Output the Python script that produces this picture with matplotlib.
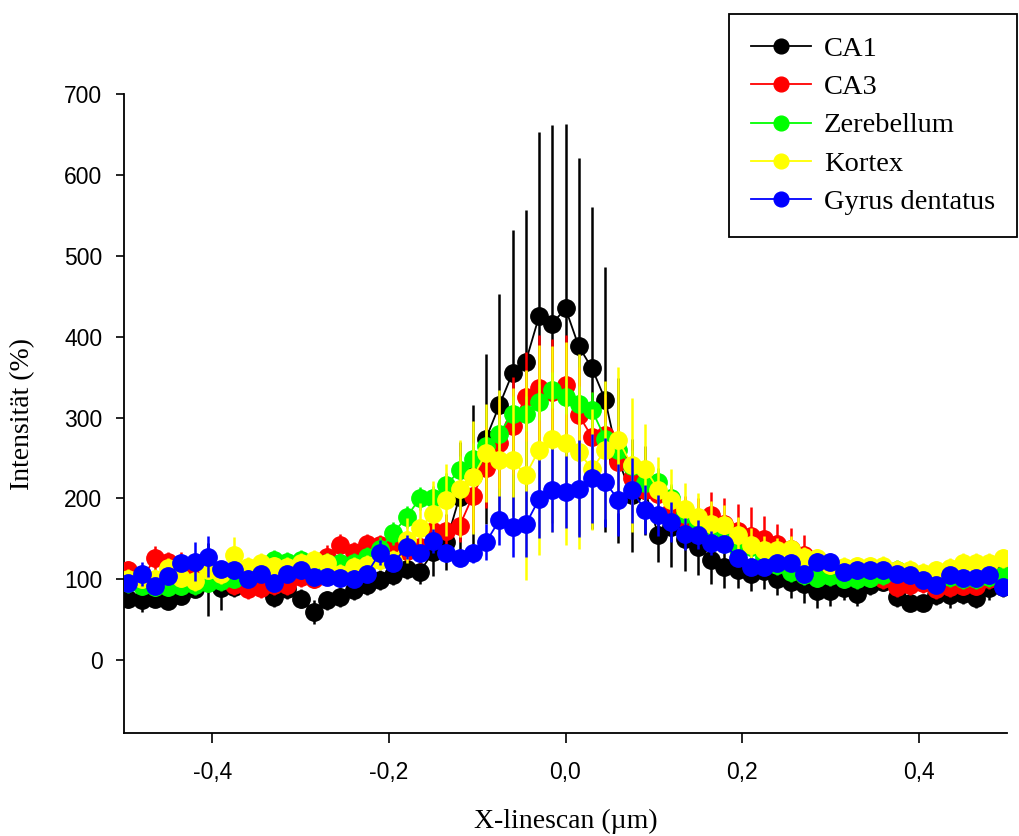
import numpy as np
import matplotlib
matplotlib.use("Agg")
import matplotlib.pyplot as plt
from matplotlib.ticker import FuncFormatter

# linescan positions (um), 67 samples
x = np.linspace(-0.495, 0.495, 67)

ca1 = [76, 74, 76, 73, 79, 88, 100, 89, 90, 95, 92, 78, 88, 76, 60, 74, 78, 87, 93, 99,
       105, 113, 109, 134, 146, 202, 228, 274, 315, 355, 369, 425, 416, 435, 388, 361, 322,
       247, 204, 210, 155, 165, 150, 140, 124, 115, 111, 107, 110, 100, 97, 94, 85, 85, 89,
       82, 93, 97, 78, 71, 71, 80, 80, 82, 77, 89, 90]
ca1_err = [12, 14, 10, 10, 10, 10, 45, 27, 12, 12, 12, 12, 12, 12, 15, 12, 12, 12, 12, 12,
           12, 12, 15, 30, 35, 68, 88, 105, 138, 177, 188, 228, 246, 228, 233, 199, 164,
           102, 70, 55, 34, 50, 40, 35, 30, 26, 22, 22, 22, 20, 20, 23, 20, 18, 15,
           15, 12, 12, 12, 10, 10, 12, 15, 12, 12, 14, 12]

ca3 = [111, 100, 126, 122, 118, 111, 108, 104, 93, 88, 89, 93, 93, 103, 101, 127, 142, 134,
       144, 143, 140, 135, 140, 160, 160, 166, 203, 238, 268, 290, 326, 336, 332, 340, 303,
       276, 279, 245, 225, 210, 205, 185, 175, 173, 179, 168, 160, 153, 150, 144, 138, 130,
       112, 110, 107, 105, 103, 100, 90, 93, 95, 88, 90, 92, 92, 100, 106]
ca3_err = [12, 12, 15, 12, 16, 12, 12, 12, 12, 12, 12, 12, 12, 12, 12, 15, 14, 12,
           12, 12, 12, 12, 20, 20, 20, 20, 45, 50, 55, 60, 55, 66, 65, 62, 60,
           55, 50, 45, 35, 30, 28, 28, 28, 28, 29, 33, 33, 37, 28, 25, 25, 25,
           20, 12, 12, 12, 12, 12, 12, 12, 12, 12, 12, 12, 12, 12, 12]

zer = [95, 92, 91, 91, 92, 93, 96, 98, 101, 108, 112, 124, 122, 124, 120, 120, 120, 120,
       128, 138, 157, 177, 200, 200, 216, 235, 249, 265, 280, 305, 305, 319, 334, 326, 317,
       309, 274, 260, 240, 219, 220, 200, 181, 170, 165, 148, 138, 140, 128, 118, 109, 105,
       102, 104, 101, 100, 102, 105, 112, 109, 105, 103, 103, 100, 100, 103, 105]
zer_err = [12, 12, 12, 12, 12, 12, 12, 12, 12, 12, 12, 12, 12, 12, 12, 12, 12, 12,
           12, 14, 14, 14, 14, 15, 16, 18, 20, 20, 20, 22, 22, 22, 22, 22, 22,
           22, 20, 20, 20, 18, 18, 18, 16, 16, 15, 15, 15, 14, 14, 13, 12, 12,
           12, 12, 12, 12, 12, 12, 12, 12, 12, 12, 12, 12, 12, 12, 12]

kor = [101, 101, 101, 114, 102, 98, 112, 106, 130, 115, 120, 116, 115, 120, 124, 120, 107,
       115, 118, 124, 124, 148, 163, 181, 198, 212, 226, 256, 247, 247, 229, 260, 274, 268,
       258, 236, 260, 272, 241, 237, 211, 198, 187, 177, 169, 167, 155, 143, 136, 136, 138,
       128, 126, 118, 115, 116, 116, 117, 112, 112, 108, 111, 114, 120, 120, 120, 126]
kor_err = [12, 12, 12, 12, 12, 12, 12, 12, 22, 12, 12, 12, 12, 12, 12, 12, 12,
           12, 12, 12, 12, 28, 31, 40, 45, 60, 70, 61, 87, 89, 130, 130, 115, 125,
           120, 75, 85, 90, 83, 55, 40, 38, 32, 30, 28, 25, 22, 20, 18, 15, 15,
           12, 12, 12, 12, 12, 12, 12, 12, 12, 12, 12, 12, 12, 12, 12, 12]

gyr = [95, 107, 92, 104, 120, 122, 128, 113, 111, 101, 107, 96, 107, 111, 103, 103, 102,
       101, 107, 133, 120, 140, 132, 147, 132, 126, 132, 146, 173, 165, 168, 199, 210, 208,
       212, 225, 220, 198, 210, 186, 179, 171, 156, 155, 145, 144, 126, 115, 115, 120, 120,
       107, 122, 122, 109, 111, 111, 111, 107, 105, 99, 93, 105, 102, 102, 105, 91]
gyr_err = [10, 15, 10, 10, 10, 24, 25, 10, 10, 10, 10, 10, 10, 10, 10, 10, 10,
           10, 10, 15, 10, 15, 10, 15, 10, 10, 12, 22, 30, 37, 41, 48, 51, 45,
           60, 55, 55, 45, 40, 30, 25, 25, 20, 18, 15, 10, 10, 10, 10, 10, 10,
           10, 10, 10, 10, 10, 10, 10, 10, 10, 10, 10, 10, 10, 10, 10, 10]

series = [
    ("CA1", ca1, ca1_err, "#000000"),
    ("CA3", ca3, ca3_err, "#ff0000"),
    ("Zerebellum", zer, zer_err, "#00ff00"),
    ("Kortex", kor, kor_err, "#ffff00"),
    ("Gyrus dentatus", gyr, gyr_err, "#0000ff"),
]

fig = plt.figure(figsize=(10.19, 8.36), dpi=100)
ax = fig.add_axes([124 / 1019, 1 - 733 / 836, 883 / 1019, 639 / 836])

handles = []
for n, (name, y, err, col) in enumerate(series):
    ax.errorbar(x, y, yerr=err, fmt="none", ecolor=col, elinewidth=1.8,
                capsize=0, zorder=2 + 2 * n)
    h, = ax.plot(x, y, "-o", color=col, lw=1.3, ms=12.5, mec=col,
                 label=name, zorder=3 + 2 * n)
    handles.append(h)

ax.set_xlim(-0.5, 0.5)
ax.set_ylim(-90, 700)
ax.set_xticks([-0.4, -0.2, 0.0, 0.2, 0.4])
ax.set_yticks(range(0, 701, 100))
ax.xaxis.set_major_formatter(FuncFormatter(lambda v, p: f"{v:.1f}".replace(".", ",")))

for s in ("top", "right"):
    ax.spines[s].set_visible(False)
for s in ("left", "bottom"):
    ax.spines[s].set_linewidth(1.3)

ax.tick_params(axis="x", direction="out", length=7, width=1.2, pad=13)
ax.tick_params(axis="y", direction="out", length=6, width=1.2, pad=9.5)
for lab in ax.get_xticklabels() + ax.get_yticklabels():
    lab.set_fontfamily("Liberation Sans")
    lab.set_fontsize(16.5)

ax.set_xlabel("X-linescan (µm)", family="Liberation Serif", fontsize=20)
ax.xaxis.set_label_coords(0.5, -0.118)
ax.set_ylabel("Intensität (%)", family="Liberation Serif", fontsize=20)
ax.yaxis.set_label_coords(-0.101, 0.5)

leg = fig.legend(handles=handles, loc="upper right",
                 bbox_to_anchor=(1017 / 1019, 1 - 14 / 836),
                 prop={"family": "Liberation Serif", "size": 20.5},
                 frameon=True, fancybox=False, framealpha=1, edgecolor="black",
                 borderpad=0.78, handlelength=2.1, handletextpad=0.45,
                 labelspacing=0.43, borderaxespad=0, markerscale=0.85)
leg.get_frame().set_linewidth(1.3)

fig.savefig("out.png", dpi=100)
